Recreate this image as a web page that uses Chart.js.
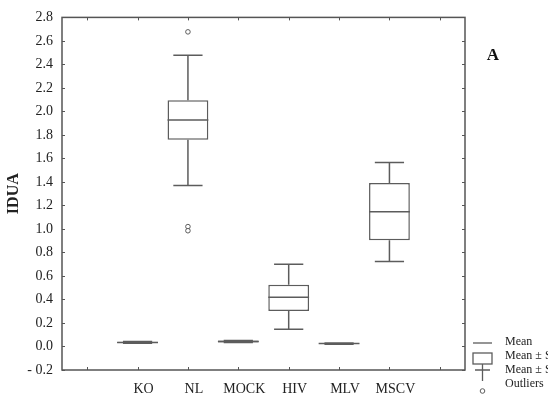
<!DOCTYPE html>
<html>
<head>
<meta charset="utf-8">
<script src="https://cdn.jsdelivr.net/npm/chart.js@4"></script>
<style>
  body { margin: 0; background: #fff; }
  #wrap { width: 548px; height: 399px; position: relative; }
</style>
</head>
<body>
<div id="wrap"><canvas id="boxChart"></canvas></div>
<script>
// groups (empty slots at both ends, as in the original frame)
const categories = ['', 'KO', 'NL', 'MOCK', 'HIV', 'MLV', 'MSCV', ''];
// mean ± SD whiskers, mean ± SE boxes, means (IDUA)
const whiskerLow  = [null, 0.028, 1.370, 0.033, 0.147, 0.020, 0.724, null];
const boxLow      = [null, 0.029, 1.760, 0.035, 0.302, 0.022, 0.903, null];
const means       = [null, 0.035, 1.926, 0.042, 0.418, 0.025, 1.146, null];
const boxHigh     = [null, 0.041, 2.096, 0.050, 0.525, 0.028, 1.391, null];
const whiskerHigh = [null, 0.042, 2.479, 0.052, 0.700, 0.030, 1.565, null];
const outliers = [
    { x: 'NL', y: 2.677 },
    { x: 'NL', y: 1.020 },
    { x: 'NL', y: 0.985 },
];
const yTicks = [-0.2, 0.0, 0.2, 0.4, 0.6, 0.8, 1.0, 1.2, 1.4, 1.6, 1.8, 2.0, 2.2, 2.4, 2.6, 2.8];
const legendLabels = ['Mean', 'Mean \u00b1 SE', 'Mean \u00b1 SD', 'Outliers'];

const serif = "'Liberation Serif', 'Times New Roman', serif";
const lineColor = '#5c5c5c';
const barPct = 0.81;

const boxExtras = {
    id: 'boxExtras',
    afterDatasetsDraw(chart) {
        const { ctx, scales: { x, y } } = chart;
        const slot = x.getPixelForValue(1) - x.getPixelForValue(0);
        const half = slot * barPct / 2;
        const cap = slot * 0.29;
        ctx.save();
        ctx.strokeStyle = lineColor;
        ctx.lineWidth = 1.5;
        categories.forEach((c, i) => {
            if (means[i] == null) return;
            const cx = x.getPixelForValue(i);
            const yWh = y.getPixelForValue(whiskerHigh[i]);
            const yWl = y.getPixelForValue(whiskerLow[i]);
            const yBh = y.getPixelForValue(boxHigh[i]);
            const yBl = y.getPixelForValue(boxLow[i]);
            const yM = y.getPixelForValue(means[i]);
            ctx.beginPath();
            ctx.moveTo(cx, yBh); ctx.lineTo(cx, yWh);
            ctx.moveTo(cx, yBl); ctx.lineTo(cx, yWl);
            ctx.moveTo(cx - cap, yWh); ctx.lineTo(cx + cap, yWh);
            ctx.moveTo(cx - cap, yWl); ctx.lineTo(cx + cap, yWl);
            ctx.moveTo(cx - half, yM); ctx.lineTo(cx + half, yM);
            ctx.stroke();
        });
        ctx.restore();
    },
    afterDraw(chart) {
        const { ctx, chartArea: a, scales: { x, y } } = chart;
        ctx.save();
        // frame with inward ticks
        ctx.strokeStyle = '#555';
        ctx.lineWidth = 1.5;
        ctx.strokeRect(a.left, a.top, a.right - a.left, a.bottom - a.top);
        ctx.lineWidth = 1;
        ctx.beginPath();
        yTicks.forEach(v => {
            const py = Math.round(y.getPixelForValue(v)) + 0.5;
            ctx.moveTo(a.left, py); ctx.lineTo(a.left + 3, py);
            ctx.moveTo(a.right, py); ctx.lineTo(a.right - 3, py);
        });
        categories.forEach((c, i) => {
            const px = Math.round(x.getPixelForValue(i)) + 0.5;
            ctx.moveTo(px, a.bottom); ctx.lineTo(px, a.bottom - 3);
            ctx.moveTo(px, a.top); ctx.lineTo(px, a.top + 3);
        });
        ctx.stroke();

        // panel letter
        ctx.fillStyle = '#111';
        ctx.font = 'bold 17px ' + serif;
        ctx.textAlign = 'center';
        ctx.textBaseline = 'alphabetic';
        ctx.fillText('A', 493, 60);

        // legend
        const lx = 473, lw = 19, cxl = lx + lw / 2;
        ctx.strokeStyle = lineColor;
        ctx.lineWidth = 1.3;
        ctx.beginPath();
        ctx.moveTo(lx, 343); ctx.lineTo(lx + lw, 343);
        ctx.stroke();
        ctx.strokeRect(lx, 353, lw, 11);
        ctx.beginPath();
        ctx.moveTo(cxl, 364); ctx.lineTo(cxl, 381);
        ctx.moveTo(lx + 2, 370); ctx.lineTo(lx + lw - 2, 370);
        ctx.stroke();
        ctx.lineWidth = 1;
        ctx.beginPath();
        ctx.arc(cxl, 391, 2.3, 0, Math.PI * 2);
        ctx.stroke();

        ctx.fillStyle = '#222';
        ctx.font = '12px ' + serif;
        ctx.textAlign = 'left';
        ctx.textBaseline = 'middle';
        const rows = [342, 356, 370, 384];
        legendLabels.forEach((t, i) => ctx.fillText(t, 505, rows[i]));
        ctx.restore();
    }
};

document.addEventListener('DOMContentLoaded', () => {
    const canvas = document.getElementById('boxChart');
    new Chart(canvas, {
        type: 'bar',
        data: {
            labels: categories,
            datasets: [{
                label: 'Mean \u00b1 SE',
                data: categories.map((c, i) => means[i] == null ? null : [boxLow[i], boxHigh[i]]),
                backgroundColor: '#fff',
                borderColor: lineColor,
                borderWidth: 1.5,
                borderSkipped: false,
                categoryPercentage: 1,
                barPercentage: barPct,
            }, {
                type: 'scatter',
                label: 'Outliers',
                data: outliers,
                pointStyle: 'circle',
                pointRadius: 2.3,
                pointBorderWidth: 1,
                borderColor: lineColor,
                backgroundColor: '#fff',
            }],
        },
        options: {
            responsive: true,
            maintainAspectRatio: false,
            animation: false,
            layout: { padding: { left: 0, right: 83, top: 16, bottom: 0 } },
            plugins: { legend: { display: false }, tooltip: { enabled: false } },
            scales: {
                x: {
                    type: 'category',
                    offset: true,
                    grid: { display: false, drawTicks: false },
                    border: { display: false },
                    ticks: {
                        color: '#222',
                        font: { family: serif, size: 14 },
                        padding: 11,
                        labelOffset: 6,
                        autoSkip: false,
                        maxRotation: 0,
                    },
                    afterFit: s => { s.height = 29; },
                },
                y: {
                    min: -0.2,
                    max: 2.8,
                    grid: { display: false, drawTicks: false },
                    border: { display: false },
                    afterBuildTicks: s => { s.ticks = yTicks.map(v => ({ value: v })); },
                    ticks: {
                        color: '#222',
                        font: { family: serif, size: 14 },
                        padding: 9,
                        callback: v => (v < 0 ? '- ' : '') + Math.abs(v).toFixed(1),
                    },
                    title: {
                        display: true,
                        text: 'IDUA',
                        color: '#222',
                        font: { family: serif, size: 16, weight: 'bold' },
                        padding: { top: 4, bottom: 0 },
                    },
                    afterFit: s => { s.width = 62; },
                },
            },
        },
        plugins: [boxExtras],
    });
});
</script>
</body>
</html>
